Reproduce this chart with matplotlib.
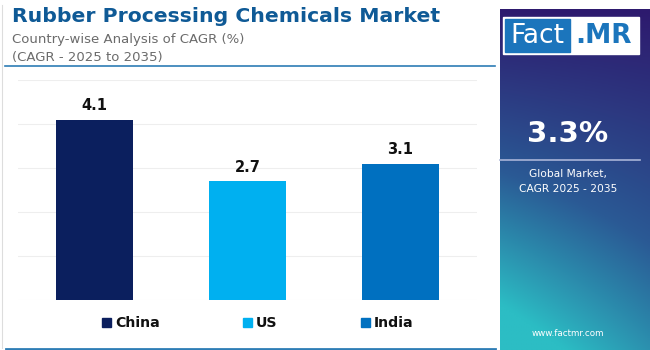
#!/usr/bin/env python3
"""Rubber processing chemicals - country-wise CAGR bar chart."""

import numpy as np
import matplotlib
matplotlib.use('Agg')
import matplotlib.pyplot as plt
from matplotlib.patches import Rectangle

# Data
countries = ['China', 'US', 'India']
cagr = [4.1, 2.7, 3.1]
bar_colors = ['#0B1F5E', '#00B0F0', '#0070C0']
global_cagr = '3.3%'

plt.rcParams['font.family'] = ['DejaVu Sans']

W, H = 650, 350
fig = plt.figure(figsize=(W / 100, H / 100), dpi=100)
fig.patch.set_facecolor('white')


def fx(px):
    return px / W


def fy(py):
    return 1 - py / H


# Title block
fig.text(fx(12), fy(17), 'Rubber Processing Chemicals Market', fontsize=14.7,
         fontweight='bold', color='#0F5A96', va='center', ha='left')
fig.text(fx(12), fy(39), 'Country-wise Analysis of CAGR (%)', fontsize=9.5,
         color='#6B6B6B', va='center', ha='left')
fig.text(fx(12), fy(58), '(CAGR - 2025 to 2035)', fontsize=9.5,
         color='#6B6B6B', va='center', ha='left')
fig.add_artist(plt.Line2D([fx(5), fx(495)], [fy(66), fy(66)],
                          color='#2E7DB5', linewidth=1.2))
fig.add_artist(plt.Line2D([fx(6), fx(495)], [fy(348.5), fy(348.5)],
                          color='#2E7DB5', linewidth=2))
fig.add_artist(plt.Line2D([fx(2), fx(2)], [fy(5), fy(348)],
                          color='#DDDDDD', linewidth=0.8))

# Bar chart
ax = fig.add_axes([fx(18), fy(300), fx(477) - fx(18), fy(80) - fy(300)])
x = np.arange(len(countries))
ax.bar(x, cagr, width=0.5, color=bar_colors, zorder=3)
ax.set_xlim(-0.5, 2.5)
ax.set_ylim(0, 5)
ax.set_yticks(np.arange(0, 6, 1))
ax.yaxis.grid(True, color='#EEEEEE', linewidth=0.8, zorder=0)
ax.set_xticks([])
ax.set_yticklabels([])
ax.tick_params(length=0)
for s in ax.spines.values():
    s.set_visible(False)
for xi, v in zip(x, cagr):
    ax.text(xi, v + 0.32, f'{v}', ha='center', va='center', fontsize=10.5,
            fontweight='bold', color='#111111')

# Legend
legend_pos = [102, 243, 361]
for px, name, col in zip(legend_pos, countries, bar_colors):
    fig.patches.append(Rectangle((fx(px), fy(327)), fx(9), fy(318) - fy(327),
                                 transform=fig.transFigure, color=col))
    fig.text(fx(px + 13), fy(323), name, fontsize=10.2, fontweight='bold',
             color='#111111', va='center', ha='left')

# Right panel with gradient
pax = fig.add_axes([fx(500), fy(350), fx(150), fy(9) - fy(350)])
ny, nx = 200, 60
yy, xx = np.mgrid[0:1:ny * 1j, 0:1:nx * 1j]
t = np.clip(0.8 * yy + 0.35 * (1 - xx) * yy, 0, 1)
top = np.array([0x2E, 0x1A, 0x6E]) / 255
mid = np.array([0x2A, 0x5A, 0x95]) / 255
bot = np.array([0x2C, 0xBD, 0xC4]) / 255
img = np.where(t[..., None] < 0.55,
               top + (mid - top) * (t[..., None] / 0.55),
               mid + (bot - mid) * ((t[..., None] - 0.55) / 0.45))
pax.imshow(img, aspect='auto', extent=[0, 1, 0, 1], origin='upper')
pax.set_xlim(0, 1)
pax.set_ylim(0, 1)
pax.axis('off')

# Logo
fig.patches.append(Rectangle((fx(503), fy(54)), fx(136), fy(17) - fy(54),
                             transform=fig.transFigure, color='white'))
fig.patches.append(Rectangle((fx(505), fy(52)), fx(65), fy(19) - fy(52),
                             transform=fig.transFigure, color='#1B75BC'))
fig.text(fx(537), fy(36), 'Fact', fontsize=19, color='white',
         va='center', ha='center')
fig.text(fx(604), fy(36), '.MR', fontsize=19, fontweight='bold',
         color='#1B75BC', va='center', ha='center')

fig.text(fx(568), fy(134), global_cagr, fontsize=21, fontweight='bold',
         color='white', va='center', ha='center')
fig.add_artist(plt.Line2D([fx(500), fx(640)], [fy(160), fy(160)],
                          color='#A9B4D8', linewidth=1.2))
fig.text(fx(568), fy(174), 'Global Market,', fontsize=7.7, color='white',
         va='center', ha='center')
fig.text(fx(568), fy(189), 'CAGR 2025 - 2035', fontsize=7.7, color='white',
         va='center', ha='center')
fig.text(fx(568), fy(334), 'www.factmr.com', fontsize=6.3, color='white',
         va='center', ha='center')

plt.savefig('out.png', dpi=100, facecolor='white')
